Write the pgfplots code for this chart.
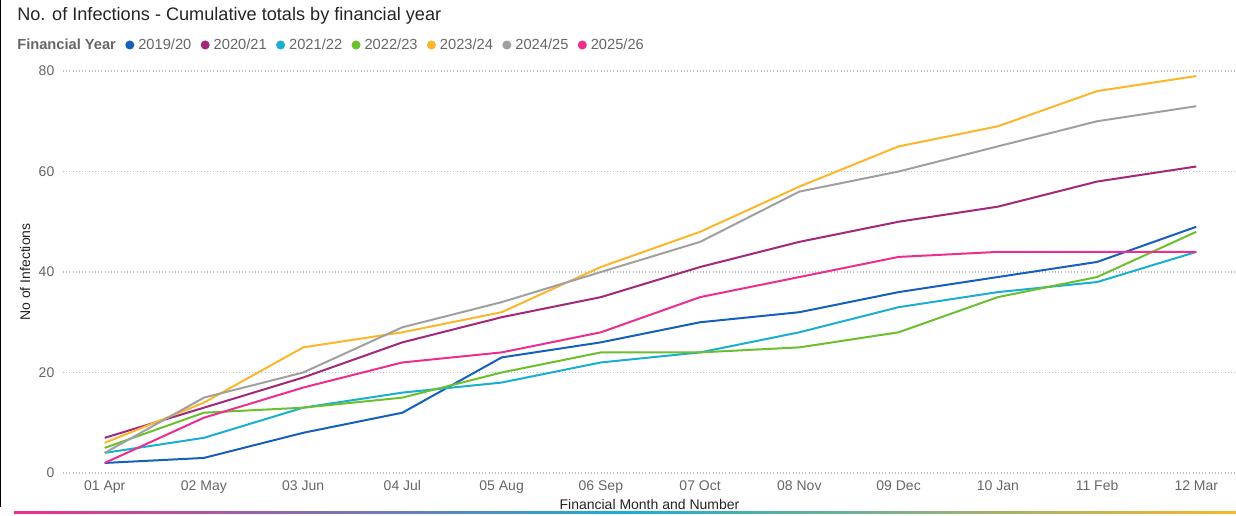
\documentclass[border=0pt]{standalone}
\usepackage{pgfplots}
\pgfplotsset{compat=1.18}
\usepackage{fontspec}
\setmainfont{Liberation Sans}
\definecolor{c1}{HTML}{1560BD}
\definecolor{c2}{HTML}{A3287A}
\definecolor{c3}{HTML}{1AAED3}
\definecolor{c4}{HTML}{6CBF2E}
\definecolor{c5}{HTML}{FDB52B}
\definecolor{c6}{HTML}{A0A0A0}
\definecolor{c7}{HTML}{EE2E8E}
\definecolor{tick}{HTML}{666666}
\definecolor{titlec}{HTML}{252423}
\begin{document}
\begin{tikzpicture}[x=0.75pt,y=0.75pt]
\path[use as bounding box] (0,0) rectangle (1236,515);
\draw[black,line width=1.2pt] (0.6,515) -- (0.6,8);
\shade[left color=c7, right color=c5, middle color=c3] (14,1.5) rectangle (1236,3.5);
\node[anchor=west,font=\fontsize{13.6}{15}\selectfont,text=titlec,inner sep=0pt] at (17,499) {No. of Infections - Cumulative totals by financial year};
\begin{axis}[
  at={(47.25pt,31.5pt)}, anchor=south west,
  scale only axis, width=879.75pt, height=301.5pt,
  xmin=-0.42, xmax=11.40, ymin=0, ymax=80,
  axis line style={draw=none},
  ytick={0,20,40,60,80},
  xtick={0,...,11},
  xticklabels={01 Apr,02 May,03 Jun,04 Jul,05 Aug,06 Sep,07 Oct,08 Nov,09 Dec,10 Jan,11 Feb,12 Mar},
  ymajorgrids, grid style={dotted, color=black!25, line width=0.8pt},
  major tick length=0pt,
  tick label style={font=\fontsize{10.5}{12}\selectfont, text=tick},
  /pgf/number format/assume math mode=true,
  yticklabel style={xshift=-3pt},
  xticklabel style={yshift=-2pt},
  xlabel={Financial Month and Number},
  ylabel={No of Infections},
  xlabel style={font=\fontsize{10.5}{12}\selectfont, text=titlec, at={(axis description cs:0.5,-0.078)}, anchor=center},
  ylabel style={font=\fontsize{10.5}{12}\selectfont, text=titlec, at={(axis description cs:-0.0324,0.5)}, anchor=center},
  every axis plot/.append style={line width=1.5pt, line join=round},
  legend columns=-1,
  legend style={draw=none, fill=none, at={(axis description cs:-0.0426,1.0647)}, anchor=west,
    font=\fontsize{11}{12}\selectfont, text=tick, inner sep=0pt,
    /tikz/every odd column/.append style={column sep=1pt},
    /tikz/every even column/.append style={column sep=5pt}},
  legend image code/.code={\fill[#1,draw=none] (0.25em,0) circle (3.4pt);},
]
\addlegendimage{empty legend}
\addlegendentry{\textbf{Financial Year}\hspace{2pt}}
\addplot[c1] coordinates {(0,2)(1,3)(2,8)(3,12)(4,23)(5,26)(6,30)(7,32)(8,36)(9,39)(10,42)(11,49)};
\addlegendentry{2019/20}
\addplot[c2] coordinates {(0,7)(1,13)(2,19)(3,26)(4,31)(5,35)(6,41)(7,46)(8,50)(9,53)(10,58)(11,61)};
\addlegendentry{2020/21}
\addplot[c3] coordinates {(0,4)(1,7)(2,13)(3,16)(4,18)(5,22)(6,24)(7,28)(8,33)(9,36)(10,38)(11,44)};
\addlegendentry{2021/22}
\addplot[c4] coordinates {(0,5)(1,12)(2,13)(3,15)(4,20)(5,24)(6,24)(7,25)(8,28)(9,35)(10,39)(11,48)};
\addlegendentry{2022/23}
\addplot[c5] coordinates {(0,6)(1,14)(2,25)(3,28)(4,32)(5,41)(6,48)(7,57)(8,65)(9,69)(10,76)(11,79)};
\addlegendentry{2023/24}
\addplot[c6] coordinates {(0,4)(1,15)(2,20)(3,29)(4,34)(5,40)(6,46)(7,56)(8,60)(9,65)(10,70)(11,73)};
\addlegendentry{2024/25}
\addplot[c7] coordinates {(0,2)(1,11)(2,17)(3,22)(4,24)(5,28)(6,35)(7,39)(8,43)(9,44)(10,44)(11,44)};
\addlegendentry{2025/26}
\end{axis}
\end{tikzpicture}
\end{document}
